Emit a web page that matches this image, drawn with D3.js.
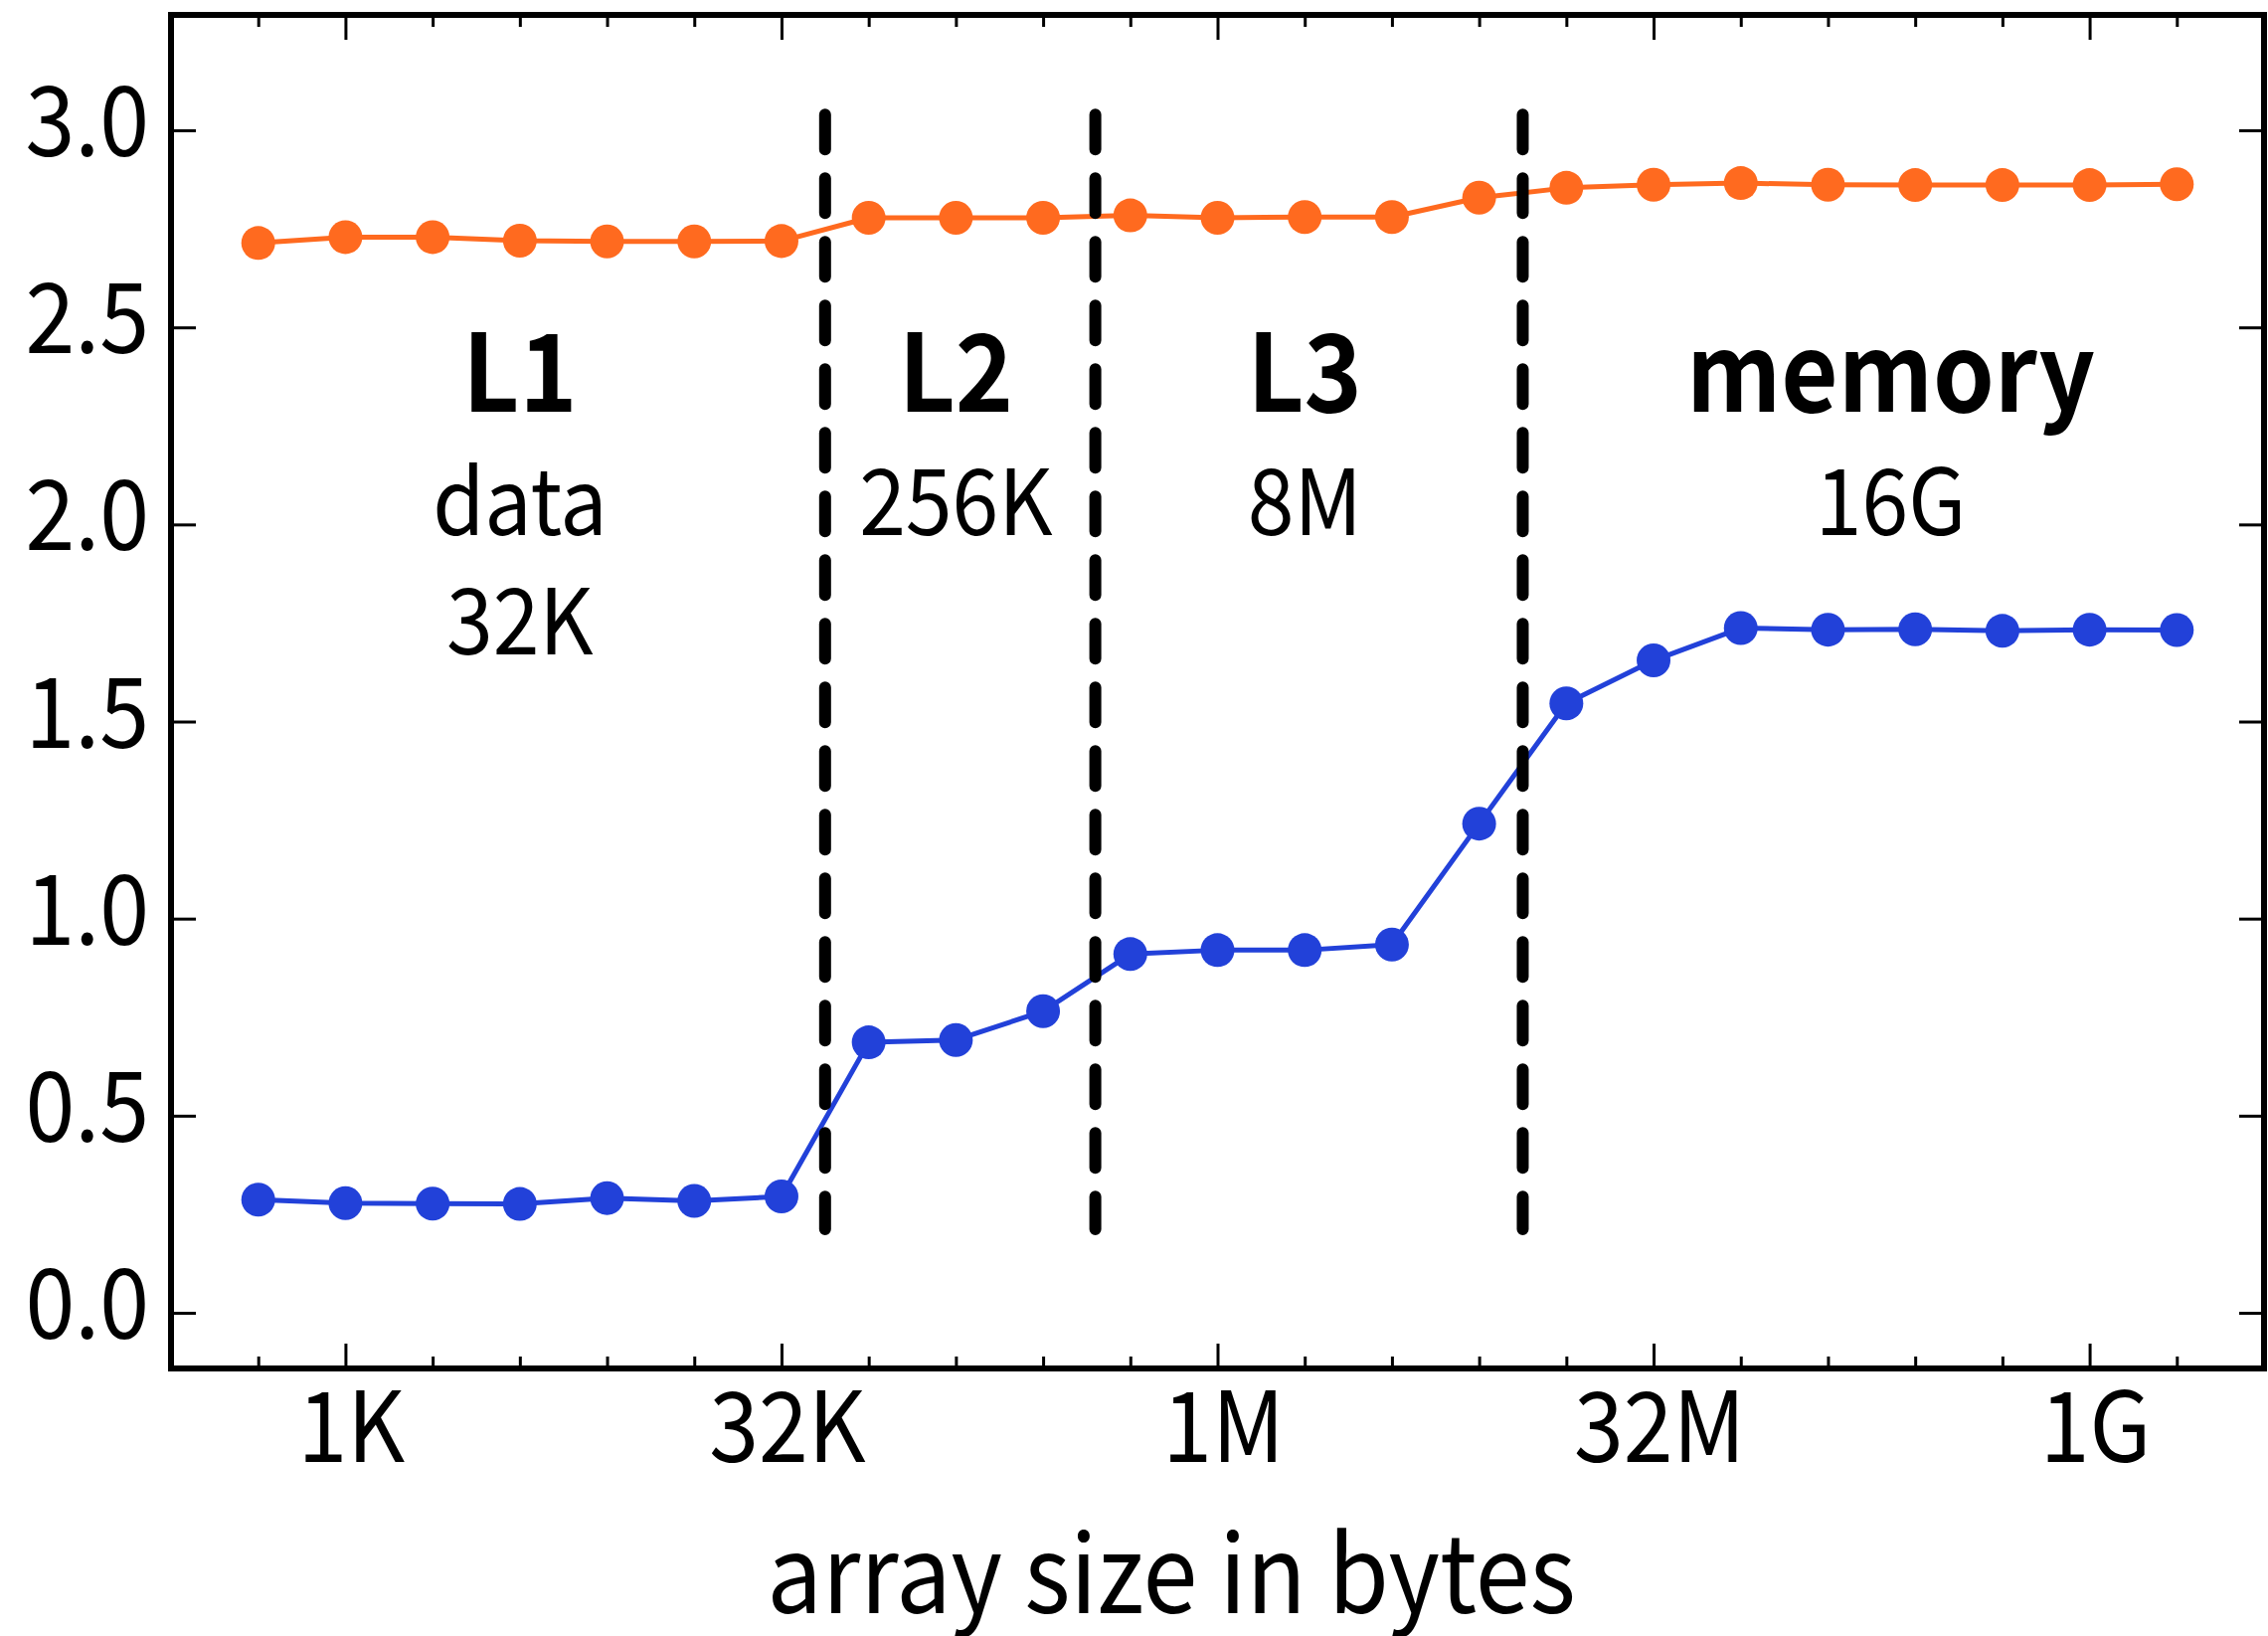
<!DOCTYPE html>
<html>
<head>
<meta charset="utf-8">
<script src="https://cdn.jsdelivr.net/npm/d3@7"></script>
<style>
  html, body { margin: 0; padding: 0; background: #fff; }
  svg { display: block; }
  text { font-family: "Noto Sans CJK SC", "Source Sans Pro", "Noto Sans", sans-serif; fill: #000; }
</style>
</head>
<body>
<script>
// ---------- data ----------
const arraySizes = [512, 1024, 2048, 4096, 8192, 16384, 32768, 65536, 131072, 262144,
  524288, 1048576, 2097152, 4194304, 8388608, 16777216, 33554432, 67108864,
  134217728, 268435456, 536870912, 1073741824, 2147483648];
const orangeSeries = [2.714, 2.729, 2.729, 2.720, 2.718, 2.718, 2.719, 2.778, 2.778, 2.778,
  2.784, 2.778, 2.780, 2.780, 2.829, 2.854, 2.862, 2.866, 2.862, 2.861, 2.861, 2.861, 2.863];
const blueSeries = [0.287, 0.278, 0.277, 0.276, 0.291, 0.284, 0.295, 0.686, 0.692, 0.765,
  0.910, 0.920, 0.920, 0.934, 1.241, 1.546, 1.655, 1.737, 1.733, 1.734, 1.730, 1.733, 1.732];
const xMajorTicks = [1024, 32768, 1048576, 33554432, 1073741824];
const xTickLabels = ["1K", "32K", "1M", "32M", "1G"];
const xMinorTicks = arraySizes;
const yTicks = [0.0, 0.5, 1.0, 1.5, 2.0, 2.5, 3.0];
const yTickLabels = ["0.0", "0.5", "1.0", "1.5", "2.0", "2.5", "3.0"];
const cacheBoundaries = [46341, 397000, 11863000];
const regionCenters = [4096, 131072, 2097152, 221000000];
const regionTitles = ["L1", "L2", "L3", "memory"];
const regionLine1 = ["data", "256K", "8M", "16G"];
const regionLine2 = ["32K", "", "", ""];
const xAxisTitle = "array size in bytes";

// ---------- layout ----------
const W = 2281, H = 1645;
const mLeft = 172, mRight = 2277, mTop = 15, mBottom = 1376;
const orange = "#ff6a1f", blue = "#2241d9";
const SX = 0.915; // horizontal condensation to match the reference face

const svg = d3.select("body").append("svg").attr("width", W).attr("height", H);
svg.append("rect").attr("width", W).attr("height", H).attr("fill", "#fff");

const x = d3.scaleLog().base(2).domain([2 ** 8, 2 ** 32]).range([mLeft, mRight]);
const y = d3.scaleLinear().domain([-0.1413, 3.2927]).range([mBottom, mTop]);

// ticks (inward, on all four sides)
function tickGroup(axisFn, transform, values, size) {
  const g = svg.append("g").attr("transform", transform)
    .call(axisFn.tickValues(values).tickSize(size).tickFormat(""));
  g.select(".domain").remove();
  g.selectAll(".tick line").attr("stroke", "#000").attr("stroke-width", 3);
  g.selectAll(".tick text").remove();
  return g;
}
const minorOnly = xMinorTicks.filter(v => !xMajorTicks.includes(v));
tickGroup(d3.axisBottom(x), `translate(0,${mBottom})`, minorOnly, -12);
tickGroup(d3.axisBottom(x), `translate(0,${mBottom})`, xMajorTicks, -25);
tickGroup(d3.axisTop(x), `translate(0,${mTop})`, minorOnly, -12);
tickGroup(d3.axisTop(x), `translate(0,${mTop})`, xMajorTicks, -25);
tickGroup(d3.axisLeft(y), `translate(${mLeft},0)`, yTicks, -25);
tickGroup(d3.axisRight(y), `translate(${mRight},0)`, yTicks, -25);

const place = (px, py) => `translate(${px},${py}) scale(${SX},1)`;

// tick labels
svg.append("g").selectAll("text").data(xMajorTicks).join("text")
  .attr("transform", d => place(x(d) + 6, 1470))
  .attr("text-anchor", "middle").attr("font-size", 98)
  .text((d, i) => xTickLabels[i]);
svg.append("g").selectAll("text").data(yTicks).join("text")
  .attr("transform", d => place(150, y(d) + 26))
  .attr("text-anchor", "end").attr("font-size", 98)
  .text((d, i) => yTickLabels[i]);

// axis title
svg.append("text").attr("transform", place(1178, 1622))
  .attr("text-anchor", "middle").attr("font-size", 108).text(xAxisTitle);

// series
const line = d3.line().x((d, i) => x(arraySizes[i])).y(d => y(d));
function drawSeries(vals, color) {
  svg.append("path").datum(vals).attr("d", line)
    .attr("fill", "none").attr("stroke", color).attr("stroke-width", 5)
    .attr("stroke-linejoin", "round");
  svg.append("g").selectAll("circle").data(vals).join("circle")
    .attr("cx", (d, i) => x(arraySizes[i])).attr("cy", d => y(d))
    .attr("r", 17).attr("fill", color);
}
drawSeries(orangeSeries, orange);
drawSeries(blueSeries, blue);

// cache boundaries (dashed)
svg.append("g").selectAll("line").data(cacheBoundaries).join("line")
  .attr("x1", d => x(d)).attr("x2", d => x(d))
  .attr("y1", y(3.04)).attr("y2", y(0.212))
  .attr("stroke", "#000").attr("stroke-width", 12)
  .attr("stroke-linecap", "round").attr("stroke-dasharray", "35,29");

// region annotations
const ann = svg.append("g");
ann.selectAll("text.t").data(regionCenters).join("text").attr("class", "t")
  .attr("transform", d => place(x(d), y(2.286))).attr("text-anchor", "middle")
  .attr("font-size", 108).attr("font-weight", "bold")
  .text((d, i) => regionTitles[i]);
ann.selectAll("text.a").data(regionCenters).join("text").attr("class", "a")
  .attr("transform", d => place(x(d), y(1.973))).attr("text-anchor", "middle")
  .attr("font-size", 92).text((d, i) => regionLine1[i]);
ann.selectAll("text.b").data(regionCenters).join("text").attr("class", "b")
  .attr("transform", d => place(x(d), y(1.670))).attr("text-anchor", "middle")
  .attr("font-size", 92).text((d, i) => regionLine2[i]);

// frame
svg.append("rect").attr("x", mLeft).attr("y", mTop)
  .attr("width", mRight - mLeft).attr("height", mBottom - mTop)
  .attr("fill", "none").attr("stroke", "#000").attr("stroke-width", 6);
</script>
</body>
</html>
